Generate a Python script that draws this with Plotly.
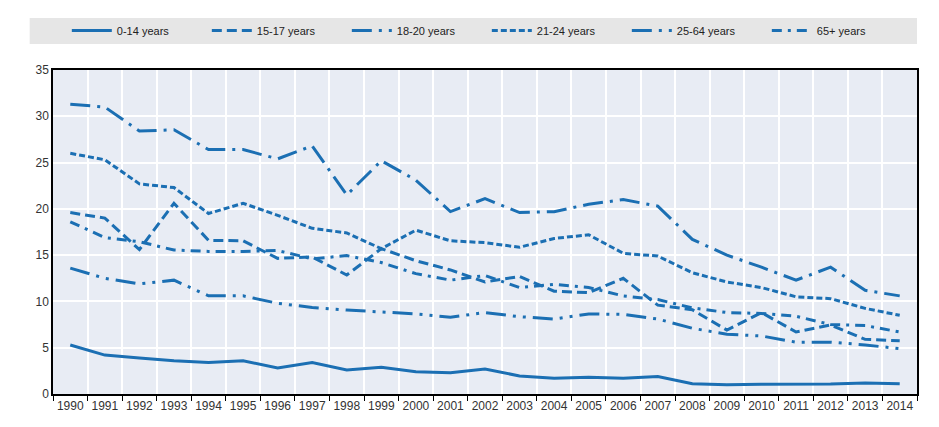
import plotly.graph_objects as go

years = [str(y) for y in range(1990, 2015)]

age_0_14 = [5.3, 4.2, 3.9, 3.6, 3.4, 3.6, 2.8, 3.4, 2.6, 2.9, 2.4, 2.3, 2.7, 1.95, 1.7, 1.8, 1.7, 1.9, 1.1, 1.0, 1.05, 1.07, 1.07, 1.2, 1.1]
age_15_17 = [19.6, 19.0, 15.6, 20.6, 16.6, 16.55, 14.65, 14.8, 12.85, 15.7, 14.4, 13.4, 12.1, 12.7, 11.1, 10.95, 12.5, 9.6, 9.1, 6.9, 8.8, 6.7, 7.45, 5.9, 5.75]
age_18_20 = [31.3, 31.0, 28.4, 28.55, 26.4, 26.4, 25.4, 26.8, 21.5, 25.2, 23.1, 19.7, 21.1, 19.6, 19.7, 20.5, 21.0, 20.3, 16.7, 15.0, 13.7, 12.3, 13.7, 11.2, 10.6]
age_21_24 = [26.0, 25.3, 22.7, 22.3, 19.5, 20.6, 19.3, 17.9, 17.4, 15.7, 17.7, 16.55, 16.35, 15.85, 16.8, 17.2, 15.2, 14.9, 13.1, 12.1, 11.5, 10.5, 10.3, 9.25, 8.5]
age_25_64 = [13.6, 12.5, 11.9, 12.3, 10.6, 10.6, 9.8, 9.35, 9.07, 8.9, 8.65, 8.3, 8.8, 8.35, 8.1, 8.65, 8.6, 8.1, 7.1, 6.45, 6.27, 5.6, 5.6, 5.3, 4.9]
age_65_plus = [18.6, 16.9, 16.45, 15.55, 15.4, 15.4, 15.5, 14.6, 14.95, 14.2, 13.0, 12.3, 12.8, 11.5, 11.85, 11.5, 10.6, 10.2, 9.3, 8.8, 8.7, 8.4, 7.5, 7.4, 6.7]

series = [
    ('0-14 years', age_0_14, 'solid'),
    ('15-17 years', age_15_17, '10px,5px'),
    ('18-20 years', age_18_20, '20px,7px,3px,7px'),
    ('21-24 years', age_21_24, '6px,3px'),
    ('25-64 years', age_25_64, '20px,7px,3px,7px,3px,7px'),
    ('65+ years', age_65_plus, '10px,6px,3px,6px'),
]

blue = '#1b6fb3'
font = 'Liberation Sans Narrow, Arial Narrow, Liberation Sans, sans-serif'

fig = go.Figure()
for name, values, dash in series:
    fig.add_trace(go.Scatter(
        name=name,
        x=years,
        y=values,
        mode='lines',
        line=dict(color=blue, width=3, dash=dash),
    ))

# page body has an 8px margin, so the figure is a bit smaller than the window
fig.update_layout(
    width=923,
    height=411,
    margin=dict(l=45, r=14, t=62, b=25, autoexpand=False),
    paper_bgcolor='white',
    plot_bgcolor='#e8ecf4',
    font=dict(family=font, size=11, color='#222'),
    showlegend=True,
    legend=dict(
        orientation='h',
        x=0.016, xanchor='left',
        y=1.167, yanchor='top',
        bgcolor='rgba(0,0,0,0)',
        font=dict(family=font, size=11, color='#222'),
        entrywidth=85,
        itemwidth=40,
        borderwidth=0,
    ),
    shapes=[dict(
        type='rect', xref='paper', yref='paper',
        x0=-0.027, x1=1.0, y0=1.080, y1=1.1605,
        fillcolor='#e6e6e6', line=dict(width=0), layer='below',
    )],
)

fig.update_xaxes(
    type='category',
    range=[-0.5, len(years) - 0.5],
    tickson='boundaries',
    ticks='outside',
    ticklen=5,
    tickcolor='black',
    tickangle=0,
    showline=True,
    linecolor='black',
    linewidth=1.5,
    mirror=True,
    showgrid=True,
    gridcolor='white',
    gridwidth=1.5,
    tickfont=dict(size=12, color='#333'),
    automargin=False,
)
fig.update_yaxes(
    range=[0, 35],
    dtick=5,
    ticks='',
    showline=True,
    linecolor='black',
    linewidth=1.5,
    mirror=True,
    showgrid=True,
    gridcolor='white',
    gridwidth=1.5,
    zeroline=False,
    tickfont=dict(size=12, color='#333'),
    automargin=False,
)

fig.write_html('out.html')
